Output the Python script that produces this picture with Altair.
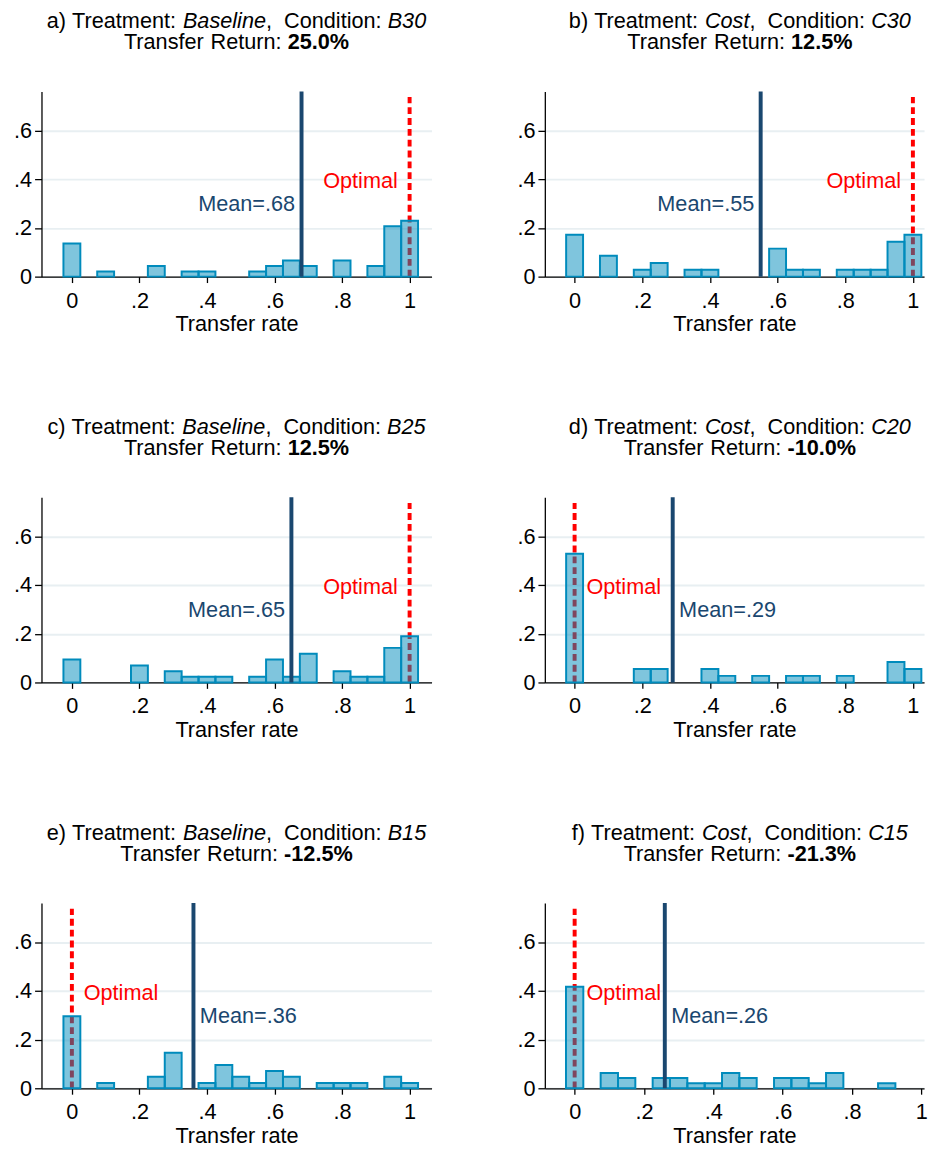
import altair as alt
import pandas as pd

FONT = "Liberation Sans"
FS = 22

# ---------------- data ----------------
letters = ["a)", "b)", "c)", "d)", "e)", "f)"]
treatments = ["Baseline", "Cost", "Baseline", "Cost", "Baseline", "Cost"]
conditions = ["B30", "C30", "B25", "C20", "B15", "C15"]
returns = ["25.0%", "12.5%", "12.5%", "-10.0%", "-12.5%", "-21.3%"]
means = [0.68, 0.55, 0.65, 0.29, 0.36, 0.26]
optimals = [1.0, 1.0, 1.0, 0.0, 0.0, 0.0]

a_centers = [0, .1, .25, .35, .4, .55, .6, .65, .7, .8, .9, .95, 1.0]
a_vals = [0.136, 0.021, 0.044, 0.021, 0.021, 0.021, 0.044, 0.066, 0.044, 0.066, 0.044, 0.207, 0.229]

b_centers = [0, .1, .2, .25, .35, .4, .6, .65, .7, .8, .85, .9, .95, 1.0]
b_vals = [0.172, 0.086, 0.028, 0.056, 0.028, 0.028, 0.115, 0.028, 0.028, 0.028, 0.028, 0.028, 0.143, 0.172]

c_centers = [0, .2, .3, .35, .4, .45, .55, .6, .65, .7, .8, .85, .9, .95, 1.0]
c_vals = [0.094, 0.070, 0.046, 0.023, 0.023, 0.023, 0.023, 0.094, 0.023, 0.118, 0.046, 0.023, 0.023, 0.142, 0.190]

d_centers = [0, .2, .25, .4, .45, .55, .65, .7, .8, .95, 1.0]
d_vals = [0.528, 0.055, 0.055, 0.055, 0.027, 0.027, 0.027, 0.027, 0.027, 0.084, 0.055]

e_centers = [0, .1, .25, .3, .4, .45, .5, .55, .6, .65, .75, .8, .85, .95, 1.0]
e_vals = [0.296, 0.022, 0.047, 0.146, 0.022, 0.096, 0.047, 0.022, 0.071, 0.047, 0.022, 0.022, 0.022, 0.047, 0.022]

f_centers = [0, .1, .15, .25, .3, .35, .4, .45, .5, .6, .65, .7, .75, .9]
f_vals = [0.417, 0.063, 0.042, 0.042, 0.042, 0.021, 0.021, 0.063, 0.042, 0.042, 0.042, 0.021, 0.063, 0.021]

all_centers = [a_centers, b_centers, c_centers, d_centers, e_centers, f_centers]
all_vals = [a_vals, b_vals, c_vals, d_vals, e_vals, f_vals]

x_ticks = [0, 0.2, 0.4, 0.6, 0.8, 1.0]
y_ticks = [0, 0.2, 0.4, 0.6]

# layout (not data)
x_domains = [[-0.09, 1.065], [-0.088, 1.033], [-0.09, 1.065],
             [-0.088, 1.033], [-0.09, 1.065], [-0.086, 1.0077]]
widths = [396, 385, 396, 385, 396, 385]
PH = 188
YMAX = 0.76
BINW = 0.05

NAVY = "#1a476f"
EBBLUE = "#008bbc"
RED = "#ff0000"
GRID = "#e8eff2"

# Helvetica / Arial advance widths (per 1000 em)
W_REG = {' ': 278, '%': 889, ')': 333, ',': 278, '-': 333, '.': 278, ':': 278,
         'B': 667, 'C': 722, 'R': 722, 'T': 611,
         'a': 556, 'b': 556, 'c': 500, 'd': 556, 'e': 556, 'f': 278, 'i': 222,
         'l': 222, 'm': 833, 'n': 556, 'o': 556, 'r': 333, 's': 500, 't': 278, 'u': 556}
for ch in "0123456789":
    W_REG[ch] = 556
W_BOLD = {'%': 889, '.': 278, '-': 333}
for ch in "0123456789":
    W_BOLD[ch] = 556


def tw(s, bold=False):
    tbl = W_BOLD if bold else W_REG
    return sum(tbl.get(ch, 556) for ch in s) / 1000.0 * FS


one = pd.DataFrame({"k": [0]})


def title_layers(segments, center, ybase):
    total = sum(tw(t, st == "bold") for t, st in segments)
    x = center - total / 2.0
    out = []
    for t, st in segments:
        w = tw(t, st == "bold")
        if t.strip():
            out.append(
                alt.Chart(one).mark_text(
                    align="left", baseline="alphabetic", font=FONT, fontSize=FS,
                    fontStyle="italic" if st == "italic" else "normal",
                    fontWeight="bold" if st == "bold" else "normal", color="black",
                ).encode(x=alt.value(x), y=alt.value(ybase), text=alt.value(t))
            )
        x += w
    return out


def tick_expr():
    return ("datum.value >= 1 ? '1' : (datum.value == 0 ? '0' : "
            "substring(format(datum.value, '.1f'), 1))")


def panel(i):
    df = pd.DataFrame({"c": all_centers[i], "v": all_vals[i]})
    xs = alt.Scale(domain=x_domains[i], nice=False, zero=False)
    ys = alt.Scale(domain=[0, YMAX], nice=False)
    xaxis = alt.Axis(values=x_ticks, labelExpr=tick_expr(), title="Transfer rate",
                     grid=False, tickSize=6, labelPadding=8, titlePadding=3)
    yaxis = alt.Axis(values=y_ticks, labelExpr=tick_expr(), title=None, grid=True,
                     gridColor=GRID, gridWidth=2, tickSize=7, labelPadding=3)

    base = alt.Chart(df).transform_calculate(
        lo=f"datum.c - {BINW / 2}", hi=f"datum.c + {BINW / 2}"
    )

    bars = base.mark_rect(fill=EBBLUE, fillOpacity=0.5, stroke=EBBLUE, strokeWidth=2).encode(
        x=alt.X("lo:Q", scale=xs, axis=xaxis),
        x2="hi:Q",
        y=alt.Y("v:Q", scale=ys, axis=yaxis),
        y2=alt.datum(0),
    )

    ref = pd.DataFrame({"mean": [means[i]], "opt": [optimals[i]],
                        "mlab": ["Mean=" + f"{means[i]:.2f}"[1:]],
                        "olab": ["Optimal"]})
    rbase = alt.Chart(ref)
    opt_rule = rbase.mark_rule(color=RED, strokeWidth=4, strokeDash=[7, 4]).encode(
        x=alt.X("opt:Q", scale=xs), y=alt.datum(0), y2=alt.datum(0.737)
    )
    mean_rule = rbase.mark_rule(color=NAVY, strokeWidth=4).encode(
        x=alt.X("mean:Q", scale=xs), y=alt.datum(0), y2=alt.datum(YMAX)
    )
    right_side = optimals[i] < 0.5
    mean_txt = rbase.mark_text(
        align="left" if right_side else "right", baseline="middle",
        dx=6.5 if right_side else -6.5, font=FONT, fontSize=FS, color=NAVY,
    ).encode(x=alt.X("mean:Q", scale=xs), y=alt.datum(0.297), text="mlab:N")
    opt_txt = rbase.mark_text(
        align="left" if right_side else "right", baseline="middle",
        dx=12 if right_side else -12, font=FONT, fontSize=FS, color=RED,
    ).encode(x=alt.X("opt:Q", scale=xs), y=alt.datum(0.392), text="olab:N")

    center = 198
    line1 = [(letters[i], "n"), (" ", "n"), ("Treatment:", "n"), (" ", "n"),
             (treatments[i], "italic"), (",", "n"), ("  ", "n"),
             ("Condition:", "n"), (" ", "n"), (conditions[i], "italic")]
    line2 = [("Transfer", "n"), (" ", "n"), ("Return:", "n"), (" ", "n"),
             (returns[i], "bold")]
    titles = title_layers(line1, center, -64.5) + title_layers(line2, center, -43)

    return alt.layer(opt_rule, bars, mean_rule, mean_txt, opt_txt, *titles).properties(
        width=widths[i], height=PH
    )


chart = alt.concat(*[panel(i) for i in range(6)], columns=2,
                   spacing={"row": 224, "column": 115}, bounds="flush")
chart = chart.properties(padding={"left": 5, "top": -7, "right": 0, "bottom": 0}).configure_view(
    stroke=None
).configure_axis(
    domainColor="black", domainWidth=1.3, tickColor="black", tickWidth=1.3,
    labelFont=FONT, labelFontSize=FS, labelColor="black",
    titleFont=FONT, titleFontSize=FS, titleFontWeight="normal", titleColor="black",
)

chart.save("out.html", embed_options={"renderer": "svg", "actions": False})
